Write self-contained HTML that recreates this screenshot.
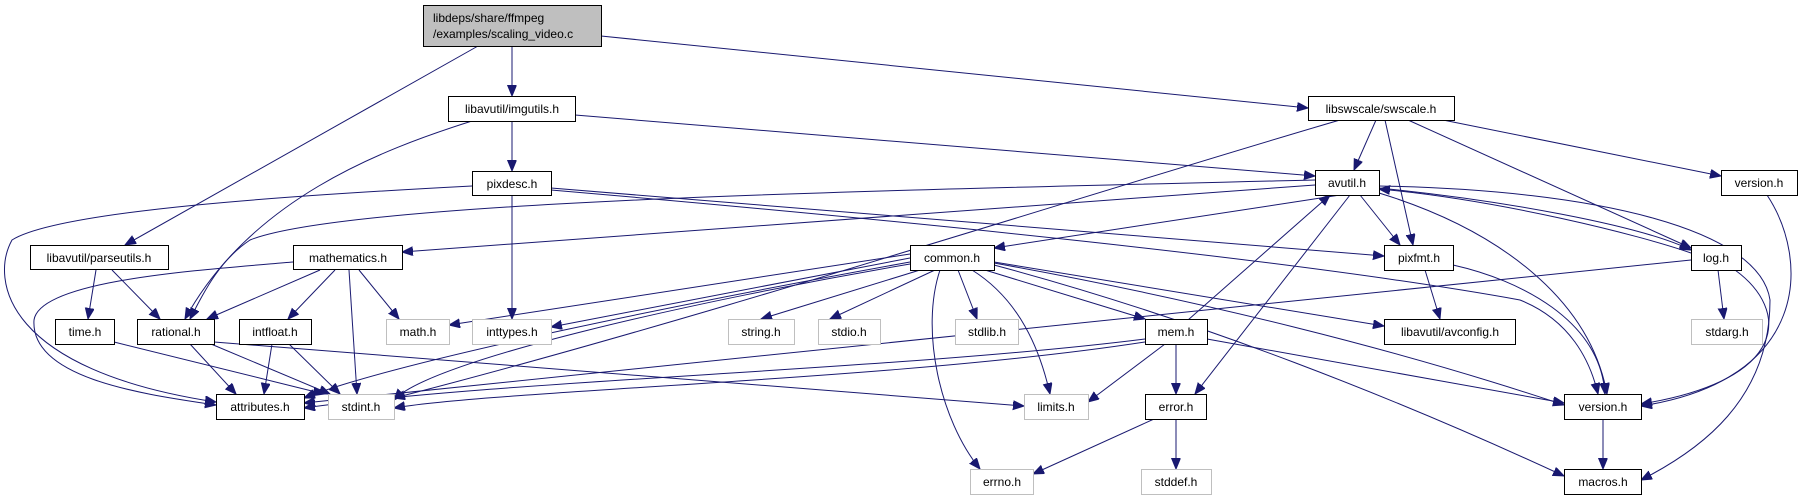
<!DOCTYPE html>
<html><head><meta charset="utf-8"><style>
html,body{margin:0;padding:0;background:#fff;}
svg{display:block;}
text{font-family:"Liberation Sans",Arial,sans-serif;font-size:12px;fill:#000;}
.n{fill:#fff;stroke:#000;stroke-width:1;}
.g{fill:#fff;stroke:#bfbfbf;stroke-width:1;}
.e{fill:none;stroke:#191970;stroke-width:1;}
</style></head><body>
<svg width="1813" height="500" viewBox="0 0 1813 500" xmlns="http://www.w3.org/2000/svg">
<defs>
<marker id="a" markerUnits="userSpaceOnUse" markerWidth="12" markerHeight="10" refX="11" refY="4.5" orient="auto">
<path d="M0,0 L11,4.5 L0,9 Z" fill="#191970" stroke="#191970"/>
</marker>
</defs>
<g marker-end="url(#a)">
<!-- scaling_video -->
<path class="e" d="M512,46 L512,96"/>
<path class="e" d="M478,46 L125,245"/>
<path class="e" d="M601,36 L1308,108"/>
<!-- imgutils -->
<path class="e" d="M512,121 L512,171"/>
<path class="e" d="M472,121 C380,150 250,200 185,319"/>
<path class="e" d="M575,115 L1315,176"/>
<!-- pixdesc -->
<path class="e" d="M472,186 C300,195 60,210 12,240 C-10,280 5,370 216,402"/>
<path class="e" d="M512,195 L512,319"/>
<path class="e" d="M551,188 L1384,256"/>
<path class="e" d="M551,190 C900,220 1300,260 1520,300 C1570,320 1590,360 1598,394"/>
<!-- parseutils -->
<path class="e" d="M96,270 L88,319"/>
<path class="e" d="M112,270 L160,319"/>
<!-- mathematics -->
<path class="e" d="M293,262 C200,270 40,280 34,320 C30,380 150,395 216,405"/>
<path class="e" d="M320,270 L207,319"/>
<path class="e" d="M335,270 L288,319"/>
<path class="e" d="M349,270 L357,394"/>
<path class="e" d="M359,270 L399,319"/>
<!-- time, rational, intfloat -->
<path class="e" d="M114,342 L324,394"/>
<path class="e" d="M190,344 L236,394"/>
<path class="e" d="M211,344 L330,394"/>
<path class="e" d="M214,342 L1024,406"/>
<path class="e" d="M272,344 L264,394"/>
<path class="e" d="M289,344 L340,394"/>
<!-- swscale -->
<path class="e" d="M1376,120 L1354,170"/>
<path class="e" d="M1385,120 L1413,245"/>
<path class="e" d="M1408,120 L1691,248"/>
<path class="e" d="M1443,120 L1721,176"/>
<path class="e" d="M1340,120 C1100,190 700,320 394,398"/>
<!-- avutil -->
<path class="e" d="M1340,195 L994,248"/>
<path class="e" d="M1315,185 L402,252"/>
<path class="e" d="M1315,180 C900,190 350,200 250,240 C220,260 205,290 190,319"/>
<path class="e" d="M1360,195 L1400,245"/>
<path class="e" d="M1379,188 C1500,200 1640,225 1691,250"/>
<path class="e" d="M1691,253 C1640,235 1500,200 1379,189"/>
<path class="e" d="M1379,193 C1500,230 1590,300 1607,394"/>
<path class="e" d="M1379,186 C1600,190 1760,230 1770,300 C1770,400 1700,450 1641,480"/>
<path class="e" d="M1350,195 L1195,394"/>
<path class="e" d="M1188,320 L1330,195"/>
<!-- pixfmt, log, version -->
<path class="e" d="M1425,270 L1440,319"/>
<path class="e" d="M1453,265 C1520,280 1600,320 1605,394"/>
<path class="e" d="M1718,270 L1724,319"/>
<path class="e" d="M1735,270 C1790,310 1790,380 1641,404"/>
<path class="e" d="M1691,260 L304,403"/>
<path class="e" d="M1767,195 C1810,260 1810,380 1641,406"/>
<path class="e" d="M1603,419 L1603,469"/>
<!-- common -->
<path class="e" d="M910,254 L449,325"/>
<path class="e" d="M910,258 L551,327"/>
<path class="e" d="M920,270 L761,319"/>
<path class="e" d="M935,270 L830,319"/>
<path class="e" d="M958,270 L977,319"/>
<path class="e" d="M972,270 C1020,300 1040,350 1050,394"/>
<path class="e" d="M940,270 C920,330 940,420 980,469"/>
<path class="e" d="M985,270 L1145,319"/>
<path class="e" d="M910,262 C700,300 400,360 304,398"/>
<path class="e" d="M910,264 C700,300 430,360 394,400"/>
<path class="e" d="M994,262 L1384,326"/>
<path class="e" d="M994,263 C1200,300 1400,350 1564,405"/>
<path class="e" d="M994,265 C1200,320 1400,400 1564,476"/>
<!-- mem -->
<path class="e" d="M1145,339 C900,370 500,380 304,408"/>
<path class="e" d="M1145,342 C900,380 500,390 394,408"/>
<path class="e" d="M1165,344 L1088,402"/>
<path class="e" d="M1176,344 L1176,394"/>
<path class="e" d="M1207,339 L1564,403"/>
<!-- error -->
<path class="e" d="M1154,419 L1033,474"/>
<path class="e" d="M1176,419 L1176,469"/>
</g>
<!-- nodes -->
<rect x="423.5" y="5.5" width="178" height="41" fill="#bfbfbf" stroke="#000"/>
<text x="433" y="22">libdeps/share/ffmpeg</text>
<text x="433" y="38">/examples/scaling_video.c</text>
<g text-anchor="middle">
<rect class="n" x="448.5" y="96.5" width="127" height="25"/><text x="512" y="113">libavutil/imgutils.h</text>
<rect class="n" x="1308.5" y="96.5" width="146" height="24"/><text x="1381" y="113">libswscale/swscale.h</text>
<rect class="n" x="472.5" y="171.5" width="79" height="24"/><text x="512" y="188">pixdesc.h</text>
<rect class="n" x="1315.5" y="170.5" width="64" height="25"/><text x="1347" y="187">avutil.h</text>
<rect class="n" x="1721.5" y="170.5" width="76" height="25"/><text x="1759" y="187">version.h</text>
<rect class="n" x="30.5" y="245.5" width="138" height="24"/><text x="99" y="262">libavutil/parseutils.h</text>
<rect class="n" x="293.5" y="245.5" width="109" height="24"/><text x="348" y="262">mathematics.h</text>
<rect class="n" x="910.5" y="245.5" width="84" height="25"/><text x="952" y="262">common.h</text>
<rect class="n" x="1384.5" y="245.5" width="69" height="25"/><text x="1419" y="262">pixfmt.h</text>
<rect class="n" x="1691.5" y="245.5" width="50" height="25"/><text x="1716" y="262">log.h</text>
<rect class="n" x="55.5" y="319.5" width="59" height="25"/><text x="85" y="336">time.h</text>
<rect class="n" x="137.5" y="319.5" width="77" height="25"/><text x="176" y="336">rational.h</text>
<rect class="n" x="239.5" y="319.5" width="72" height="25"/><text x="275" y="336">intfloat.h</text>
<rect class="g" x="386.5" y="319.5" width="63" height="25"/><text x="418" y="336">math.h</text>
<rect class="g" x="472.5" y="319.5" width="79" height="25"/><text x="512" y="336">inttypes.h</text>
<rect class="g" x="728.5" y="319.5" width="66" height="25"/><text x="761" y="336">string.h</text>
<rect class="g" x="818.5" y="319.5" width="62" height="25"/><text x="849" y="336">stdio.h</text>
<rect class="g" x="955.5" y="319.5" width="63" height="25"/><text x="987" y="336">stdlib.h</text>
<rect class="n" x="1145.5" y="319.5" width="62" height="25"/><text x="1176" y="336">mem.h</text>
<rect class="n" x="1384.5" y="319.5" width="131" height="25"/><text x="1450" y="336">libavutil/avconfig.h</text>
<rect class="g" x="1691.5" y="319.5" width="71" height="25"/><text x="1727" y="336">stdarg.h</text>
<rect class="n" x="216.5" y="394.5" width="88" height="25"/><text x="260" y="411">attributes.h</text>
<rect class="g" x="328.5" y="394.5" width="66" height="25"/><text x="361" y="411">stdint.h</text>
<rect class="g" x="1024.5" y="394.5" width="64" height="25"/><text x="1056" y="411">limits.h</text>
<rect class="n" x="1145.5" y="394.5" width="61" height="25"/><text x="1176" y="411">error.h</text>
<rect class="n" x="1564.5" y="394.5" width="77" height="25"/><text x="1603" y="411">version.h</text>
<rect class="g" x="970.5" y="469.5" width="63" height="25"/><text x="1002" y="486">errno.h</text>
<rect class="g" x="1141.5" y="469.5" width="70" height="25"/><text x="1176" y="486">stddef.h</text>
<rect class="n" x="1564.5" y="469.5" width="77" height="25"/><text x="1603" y="486">macros.h</text>
</g>
</svg>
</body></html>
